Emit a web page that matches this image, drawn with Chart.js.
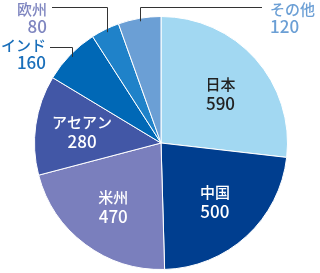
<!DOCTYPE html>
<html>
<head>
<meta charset="utf-8">
<script src="https://cdn.jsdelivr.net/npm/chart.js@4"></script>
<style>
  body { margin: 0; background: #fff; }
  #wrap { width: 320px; height: 273px; }
</style>
</head>
<body>
<div id="wrap"><canvas id="myChart" width="320" height="273"></canvas></div>
<script>
// values, clockwise from 12 o'clock
var regions = ['日本', '中国', '米州', 'アセアン', 'インド', '欧州', 'その他'];
var amounts = [590, 500, 470, 280, 160, 80, 120];
var colors = ['#a2d8f2', '#003e8f', '#7a7fbd', '#4257a6', '#0068b6', '#1f82c9', '#6b9fd5'];

// which slices get their label inside, and the text color there
var insideText = { 0: '#222', 1: '#fff', 2: '#fff', 3: '#fff' };
// outside labels: slice index -> where the text block sits
var outsideLabels = [
    { i: 4, x: 46, y: 45, align: 'right', lineStart: 50, lineY: 47, color: '#1a6fba' },
    { i: 5, x: 47, y: 9, align: 'right', lineStart: 52, lineY: 7, color: '#7f86c0' },
    { i: 6, x: 270, y: 9, align: 'left', lineStart: 262, lineY: 7, color: '#6b9fd5' }
];

var wordFont = '500 15px "Noto Sans CJK JP", sans-serif';
var numFont = '500 17px "Noto Sans CJK JP", "Noto Sans", sans-serif';

var labelPlugin = {
    id: 'labels',
    afterDraw: function(chart) {
        var ctx = chart.ctx;
        var meta = chart.getDatasetMeta(0);
        ctx.save();
        ctx.textBaseline = 'middle';

        meta.data.forEach(function(arc, i) {
            if (insideText[i] === undefined) return;
            var p = arc.getProps(['x', 'y', 'startAngle', 'endAngle', 'outerRadius'], true);
            var mid = (p.startAngle + p.endAngle) / 2;
            var r = p.outerRadius * 0.63;
            var cx = p.x + Math.cos(mid) * r;
            var cy = p.y + Math.sin(mid) * r;
            if (i == 0) cy += 4;
            ctx.fillStyle = insideText[i];
            ctx.textAlign = 'center';
            ctx.font = wordFont;
            ctx.fillText(regions[i], cx, cy - 9.5);
            ctx.font = numFont;
            ctx.fillText(amounts[i], cx, cy + 10);
        });

        outsideLabels.forEach(function(l) {
            var arc = meta.data[l.i];
            var p = arc.getProps(['x', 'y', 'startAngle', 'endAngle', 'outerRadius'], true);
            var mid = (p.startAngle + p.endAngle) / 2;
            var ex = p.x + Math.cos(mid) * (p.outerRadius - 3);
            var ey = p.y + Math.sin(mid) * (p.outerRadius - 3);
            ctx.strokeStyle = '#333';
            ctx.lineWidth = 1;
            ctx.beginPath();
            ctx.moveTo(Math.round(ex) + 0.5, ey);
            ctx.lineTo(Math.round(ex) + 0.5, l.lineY + 0.5);
            ctx.lineTo(l.lineStart, l.lineY + 0.5);
            ctx.stroke();

            ctx.fillStyle = l.color;
            ctx.textAlign = l.align;
            ctx.font = wordFont;
            ctx.fillText(regions[l.i], l.x, l.y);
            ctx.font = numFont;
            ctx.fillText(amounts[l.i], l.x, l.y + 18);
        });
        ctx.restore();
    }
};

const ctx = document.getElementById('myChart').getContext('2d');
const myChart = new Chart(ctx, {
    type: 'pie',
    data: {
        labels: regions,
        datasets: [{
            data: amounts,
            backgroundColor: colors,
            borderColor: '#fff',
            borderWidth: 1
        }]
    },
    options: {
        responsive: false,
        animation: false,
        layout: { padding: { top: 16, bottom: 3, left: 2 } },
        plugins: {
            legend: { display: false },
            tooltip: { enabled: false }
        }
    },
    plugins: [labelPlugin]
});
</script>
</body>
</html>
